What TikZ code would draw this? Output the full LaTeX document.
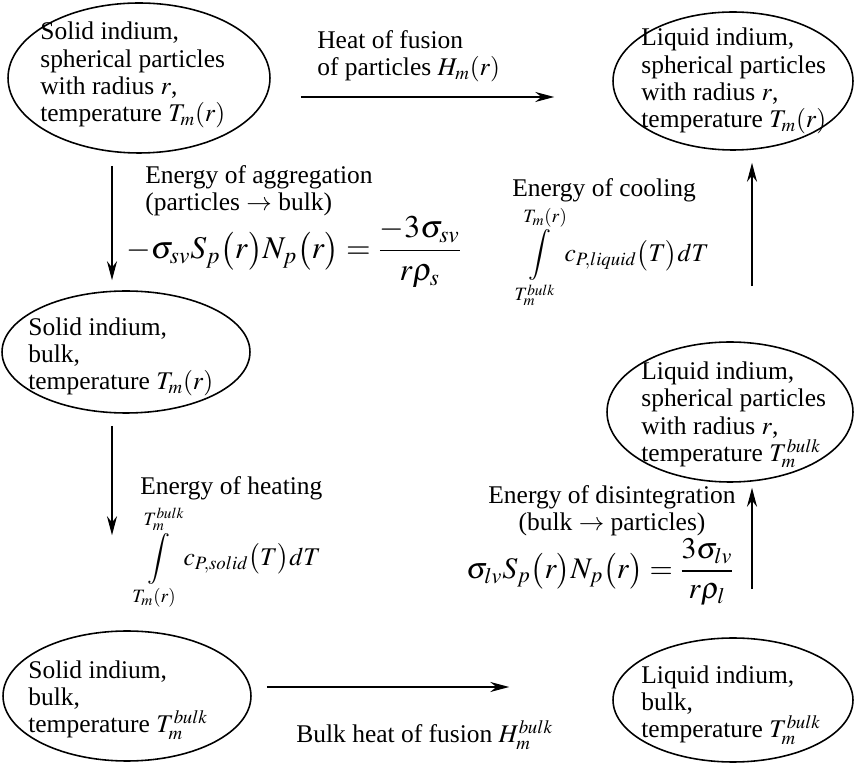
\documentclass[tikz,border=0pt]{standalone}
\usepackage{amsmath}
\usepackage{mathptmx}
\usepackage[no-math]{fontspec}
\setmainfont{Liberation Serif}
\usetikzlibrary{arrows.meta, positioning, shapes.geometric, calc}

\begin{document}
\begin{tikzpicture}[x=0.02cm, y=-0.02cm,
  every node/.style={font=\fontsize{14.5}{15.5}\selectfont},
  state/.style={draw, ellipse, line width=0.9pt, inner sep=0pt},
  note/.style={align=left, inner sep=0pt},
  eq/.style={inner sep=0pt, font=\fontsize{17}{20}\selectfont},
  integ/.style={inner sep=0pt, font=\fontsize{14.5}{17}\selectfont},
  flow/.style={-{Stealth[length=0.38cm, width=0.2cm]}, line width=1.1pt}]
\useasboundingbox (0,0) rectangle (856,766);

% states of the indium
\node[state, minimum width=5.24cm, minimum height=3cm] (tl) at (139,78) {};
\node[state, minimum width=4.8cm, minimum height=2.76cm] (tr) at (733,81) {};
\node[state, minimum width=4.96cm, minimum height=2.44cm] (ml) at (126,352) {};
\node[state, minimum width=4.92cm, minimum height=2.8cm] (mr) at (730,412) {};
\node[state, minimum width=4.96cm, minimum height=2.6cm] (bl) at (127,696) {};
\node[state, minimum width=4.8cm, minimum height=2.48cm] (br) at (733,700) {};

\node[note, anchor=west] (tl-t) at (40,75) {Solid indium,\\spherical particles\\with radius $r$,\\temperature $T_m(r)$};
\node[note, anchor=west] (tr-t) at (641,81) {Liquid indium,\\spherical particles\\with radius $r$,\\temperature $T_m(r)$};
\node[note, anchor=west] (ml-t) at (28,357) {Solid indium,\\bulk,\\temperature $T_m(r)$};
\node[note, anchor=west] (mr-t) at (641,415) {Liquid indium,\\spherical particles\\with radius $r$,\\temperature $T_m^{bulk}$};
\node[note, anchor=west] (bl-t) at (28,700) {Solid indium,\\bulk,\\temperature $T_m^{bulk}$};
\node[note, anchor=west] (br-t) at (641,705) {Liquid indium,\\bulk,\\temperature $T_m^{bulk}$};

% energy terms
\node[note, anchor=north west] (hf) at (317,30) {Heat of fusion\\of particles $H_m(r)$};
\node[note, anchor=north west] (agg) at (145,165) {Energy of aggregation\\(particles $\to$ bulk)};
\node[eq, anchor=west, font=\fontsize{18}{20}\selectfont] (agg-eq) at (126,252) {$-\sigma_{sv}S_p\bigl(r\bigr)N_p\bigl(r\bigr)=\dfrac{-3\sigma_{sv}}{r\rho_s}$};
\node[note, anchor=north west] (cool) at (512,178) {Energy of cooling};
\node[integ, anchor=west] (cool-eq) at (518,257) {$\displaystyle\int\limits_{T_m^{bulk}}^{T_m(r)} c_{P,liquid}\bigl(T\bigr)dT$};
\node[note, anchor=north west] (heat) at (140,476) {Energy of heating};
\node[integ, anchor=west] (heat-eq) at (137,558) {$\displaystyle\int\limits_{T_m(r)}^{T_m^{bulk}} c_{P,solid}\bigl(T\bigr)dT$};
\node[note, align=center, anchor=north] (dis) at (612,485) {Energy of disintegration\\(bulk $\to$ particles)};
\node[eq, anchor=west] (dis-eq) at (466,572) {$\sigma_{lv}S_p\bigl(r\bigr)N_p\bigl(r\bigr)=\dfrac{3\sigma_{lv}}{r\rho_l}$};
\node[note, anchor=west] (bhf) at (296,735) {Bulk heat of fusion $H_m^{bulk}$};

% arrow lanes
\coordinate (lane-l) at (112,0);
\coordinate (lane-r) at (752,0);
\coordinate (lane-t) at (0,97);
\coordinate (lane-b) at (0,687);

\draw[flow, shorten <=0.6cm, shorten >=1.16cm] (tl.east |- lane-t) -- (tr.west |- lane-t);
\draw[flow, shorten <=0.24cm, shorten >=0.2cm] (tl.south -| lane-l) -- (ml.north -| lane-l);
\draw[flow, shorten <=0.24cm, shorten >=1.9cm] (ml.south -| lane-l) -- (bl.north -| lane-l);
\draw[flow, shorten <=0.3cm, shorten >=2.06cm] (bl.east |- lane-b) -- (br.west |- lane-b);
\draw[flow, shorten <=0.96cm, shorten >=0.1cm] (br.north -| lane-r) -- (mr.south -| lane-r);
\draw[flow, shorten <=1.1cm, shorten >=0.24cm] (mr.north -| lane-r) -- (tr.south -| lane-r);
\end{tikzpicture}
\end{document}
